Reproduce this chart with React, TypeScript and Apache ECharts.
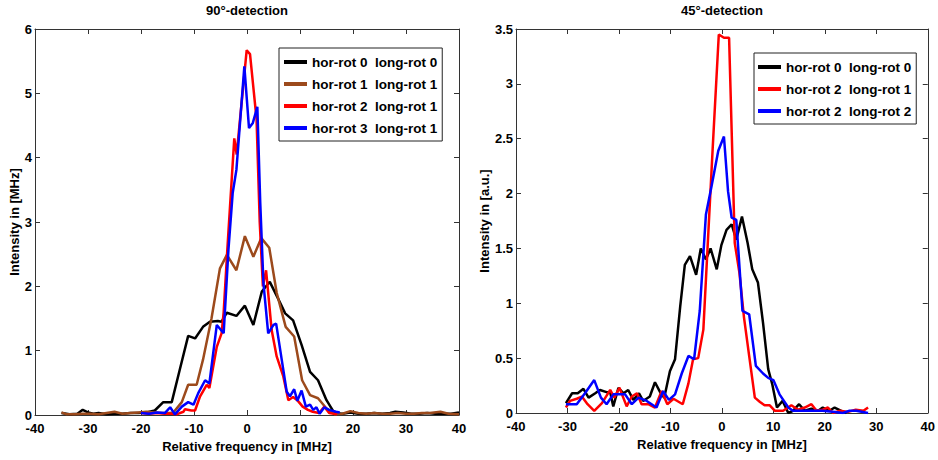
import React, { useEffect, useRef } from "react";
import * as echarts from "echarts";

const FONT = "'Liberation Sans', Arial, sans-serif";

const titles = ["90°-detection", "45°-detection"];
const yNames = ["Intensity in [MHz]", "Intensity in [a.u.]"];
const xName = "Relative frequency in [MHz]";

const names90 = ["hor-rot 0  long-rot 0", "hor-rot 1  long-rot 1", "hor-rot 2  long-rot 1", "hor-rot 3  long-rot 1"];
const names45 = ["hor-rot 0  long-rot 0", "hor-rot 2  long-rot 1", "hor-rot 2  long-rot 2"];
const colors90 = ["#000000", "#9c4a1c", "#ff0000", "#0000ff"];
const colors45 = ["#000000", "#ff0000", "#0000ff"];

// 90°-detection: [frequency MHz, intensity]
const d90_h0l0: [number, number][] = [
  [-35, 0.03], [-33.5, 0.01], [-32, 0.02], [-31, 0.08], [-30, 0.04], [-29, 0.02], [-28, 0.03], [-26.5, 0.01],
  [-25, 0.02], [-23.5, 0.02], [-22, 0.03], [-20.5, 0.03], [-19, 0.04], [-17.4, 0.07], [-15.8, 0.2], [-14.2, 0.2],
  [-12.7, 0.7], [-11.1, 1.23], [-9.8, 1.19], [-8.3, 1.37], [-7, 1.45], [-5.5, 1.46], [-4.8, 1.45], [-3.8, 1.59],
  [-2, 1.54], [-0.4, 1.7], [1.2, 1.4], [2.8, 1.92], [4.3, 2.07], [5.8, 1.82], [7.2, 1.58], [8.7, 1.47],
  [10.3, 1.09], [11.9, 0.67], [13.4, 0.54], [15, 0.23], [16.5, 0.03], [18, 0.02], [19.5, 0.04], [21, 0.02],
  [22.5, 0.02], [24, 0.03], [25.5, 0.02], [27, 0.03], [28, 0.05], [29.5, 0.04], [31, 0.02], [32.5, 0.02],
  [34, 0.03], [35.5, 0.02], [37, 0.02], [38.5, 0.02], [40, 0.04],
];
const d90_h1l1: [number, number][] = [
  [-35, 0.04], [-34, 0.01], [-32.5, 0.01], [-31, 0.02], [-29.5, 0.02], [-28, 0.01], [-26.5, 0.03], [-25, 0.05],
  [-23.5, 0.02], [-22, 0.03], [-20.5, 0.04], [-19, 0.05], [-17.5, 0.04], [-16, 0.03], [-14.5, 0.03], [-13.9, 0.04],
  [-12.3, 0.2], [-11.1, 0.47], [-9.5, 0.47], [-8.3, 0.86], [-6.7, 1.5], [-5.1, 2.28], [-3.8, 2.49], [-2, 2.25],
  [-0.4, 2.78], [1.2, 2.46], [2.7, 2.75], [4.2, 2.6], [5.6, 1.9], [7.3, 1.37], [8.9, 1.22], [10.4, 0.54],
  [11.9, 0.31], [13.4, 0.26], [15, 0.1], [16.6, 0.01], [18, 0.02], [19.5, 0.06], [21, 0.03], [22.5, 0.02],
  [24, 0.03], [25.5, 0.02], [27, 0.02], [28.5, 0.03], [30, 0.02], [31.5, 0.02], [33, 0.03], [34.5, 0.03],
  [36.5, 0.05], [38, 0.02], [40, 0.01],
];
const d90_h2l1: [number, number][] = [
  [-20, 0.03], [-18.5, 0.02], [-17, 0.03], [-15.5, 0.02], [-14.2, 0.02], [-13.3, 0.01], [-12, 0.05], [-11.7, 0.09],
  [-10.5, 0.07], [-9.8, 0.07], [-8.9, 0.28], [-7.6, 0.47], [-7.1, 0.42], [-5.7, 1.06], [-4.8, 1.27], [-4.4, 1.6],
  [-3.7, 2.59], [-2.4, 4.3], [-1.95, 4.05], [-0.06, 5.67], [0.57, 5.61], [1.8, 4.6], [2.4, 3.0], [3.0, 2.0],
  [3.6, 2.25], [4.65, 1.32], [5.6, 0.91], [6.85, 0.6], [7.8, 0.23], [8.7, 0.28], [9.6, 0.22], [10.5, 0.13],
  [11.5, 0.08], [12.4, 0.05], [13.6, 0.03], [14.6, 0.13], [15.5, 0.03], [17, 0.01],
];
const d90_h3l1: [number, number][] = [
  [-20, 0.03], [-18.5, 0.02], [-17, 0.04], [-15.5, 0.03], [-14.5, 0.12], [-13.6, 0.01], [-12.3, 0.13], [-11.1, 0.2],
  [-10.1, 0.16], [-9.2, 0.34], [-7.9, 0.54], [-7.1, 0.49], [-5.7, 1.4], [-4.4, 1.27], [-3.5, 2.57], [-2.7, 3.45],
  [-2, 3.81], [-0.5, 5.42], [0.38, 4.46], [1.1, 4.54], [1.95, 4.79], [2.5, 3.3], [3.1, 2.05], [4.0, 1.27],
  [5.0, 1.4], [5.5, 1.42], [6.55, 0.86], [7.5, 0.36], [8.1, 0.29], [8.9, 0.4], [9.5, 0.22], [10.3, 0.38],
  [11.1, 0.13], [11.9, 0.16], [12.5, 0.08], [13.1, 0.12], [13.7, 0.02], [14.6, 0.12], [15.5, 0.08], [16.8, 0.05],
  [17.5, 0.04],
];

// 45°-detection
const d45_h0l0: [number, number][] = [
  [-30.3, 0.09], [-29.1, 0.18], [-28, 0.18], [-26.9, 0.22], [-25.9, 0.14], [-24.6, 0.18], [-23.7, 0.21], [-22.4, 0.19],
  [-21.7, 0.19], [-21.1, 0.06], [-20.1, 0.23], [-19.1, 0.18], [-18.2, 0.21], [-17.2, 0.12], [-16.1, 0.18], [-15.3, 0.11],
  [-14, 0.15], [-13, 0.28], [-12, 0.19], [-11.2, 0.14], [-10.1, 0.38], [-9.1, 0.49], [-8.1, 0.97], [-7.2, 1.35],
  [-6.2, 1.43], [-5, 1.26], [-4.1, 1.5], [-3.1, 1.4], [-2.2, 1.5], [-1, 1.31], [-0.1, 1.53], [0.9, 1.67],
  [1.9, 1.72], [2.8, 1.58], [3.9, 1.79], [5, 1.55], [5.9, 1.31], [7, 1.19], [8, 0.82], [9, 0.4],
  [9.8, 0.26], [10.7, 0.05], [11.8, 0.11], [12.9, 0], [13.8, 0.02], [15, 0.08], [16.1, 0.02], [17.4, 0.04],
  [18.7, 0.02], [19.6, 0.05], [20.9, 0.02], [21.9, 0.05], [23.2, 0.02], [24.2, 0],
];
const d45_h2l1: [number, number][] = [
  [-30.3, 0.05], [-29.5, 0.11], [-28.2, 0.13], [-27.2, 0.15], [-26.1, 0.08], [-24.8, 0.02], [-23.3, 0.09], [-21.7, 0.21],
  [-20.9, 0.14], [-19.9, 0.23], [-18.5, 0.06], [-17.5, 0.15], [-16.5, 0.18], [-15.6, 0.08], [-14.3, 0.08], [-13, 0.05],
  [-11.7, 0.2], [-10.6, 0.08], [-9.4, 0.13], [-7.6, 0.08], [-6.5, 0.27], [-5.6, 0.49], [-4.6, 0.5], [-3.6, 0.76],
  [-2.8, 1.49], [-1.8, 2.4], [-0.6, 3.45], [0.4, 3.42], [1.4, 3.42], [2.5, 1.55], [3.4, 1.28], [4.3, 0.87],
  [5.3, 0.52], [6.4, 0.14], [7.4, 0.1], [8.3, 0.07], [9.3, 0.07], [10.3, 0.02], [11.9, 0.02], [13.5, 0.07],
  [14.8, 0.03], [16.1, 0.05], [17.4, 0.08], [18.4, 0.02], [19.6, 0.03], [20.6, 0.05], [21.6, 0], [23, 0.02],
  [24.5, 0.01], [26, 0.03], [27.5, 0.02], [28.4, 0.05],
];
const d45_h2l2: [number, number][] = [
  [-30.3, 0.08], [-28.2, 0.08], [-26.6, 0.18], [-24.8, 0.3], [-23.5, 0.14], [-22.4, 0.08], [-21.1, 0.17], [-18.8, 0.17],
  [-17.5, 0.08], [-16.2, 0.14], [-14.6, 0.11], [-12.7, 0.05], [-11.4, 0.2], [-10.3, 0.12], [-9.1, 0.17], [-7.8, 0.36],
  [-6.5, 0.52], [-5.4, 0.49], [-4.3, 0.93], [-3.1, 1.81], [-2, 2.07], [-0.7, 2.39], [0.4, 2.52], [1.2, 2.02],
  [1.9, 1.78], [2.8, 1.76], [4, 0.93], [5.3, 0.9], [6.6, 0.43], [8, 0.36], [9, 0.32], [10, 0.3],
  [11.2, 0.17], [12.9, 0.05], [13.8, 0.02], [15.8, 0.02], [19.6, 0.02], [22, 0.01], [23.5, 0], [24.8, 0.02],
  [26.1, 0.02], [28.4, 0],
];

const data90 = [d90_h0l0, d90_h1l1, d90_h2l1, d90_h3l1];
const data45 = [d45_h0l0, d45_h2l1, d45_h2l2];

const AX = "#333333";
const TICK_FS = 13;
const NAME_FS = 13;

function valueAxis(gridIndex: number, min: number, max: number, interval: number, position: string, labels: boolean, extra: any = {}) {
  return {
    type: "value",
    gridIndex,
    min,
    max,
    interval,
    position,
    axisLine: { show: true, onZero: false, lineStyle: { color: AX, width: 1 } },
    axisTick: { show: true, inside: true, length: 5, lineStyle: { color: AX, width: 1 } },
    splitLine: { show: false },
    axisLabel: {
      show: labels,
      color: "#000",
      fontFamily: FONT,
      fontWeight: "bold",
      fontSize: TICK_FS,
      margin: 3,
    },
    ...extra,
  };
}

export default function App() {
  const ref = useRef<HTMLDivElement>(null);
  useEffect(() => {
    const chart = echarts.init(ref.current!, null, { renderer: "svg" });
    const nameStyle = { color: "#000", fontFamily: FONT, fontWeight: "bold", fontSize: NAME_FS };
    const xExtra = {
      name: xName,
      nameLocation: "middle",
      nameGap: 25,
      nameTextStyle: nameStyle,
      axisLabel: { show: true, color: "#000", fontFamily: FONT, fontWeight: "bold", fontSize: TICK_FS, margin: 7 },
    };
    const series: any[] = [];
    names90.forEach((n, i) =>
      series.push({
        type: "line",
        name: n,
        xAxisIndex: 0,
        yAxisIndex: 0,
        data: data90[i],
        showSymbol: false,
        symbol: "none",
        color: colors90[i],
        lineStyle: { width: 2.5, color: colors90[i] },
      })
    );
    names45.forEach((n, i) =>
      series.push({
        type: "line",
        name: n,
        xAxisIndex: 2,
        yAxisIndex: 2,
        data: data45[i],
        showSymbol: false,
        symbol: "none",
        color: colors45[i],
        lineStyle: { width: 2.5, color: colors45[i] },
      })
    );
    const legendCommon = {
      orient: "vertical",
      icon: "rect",
      itemWidth: 23,
      itemHeight: 4,
      itemGap: 4,
      itemStyle: { borderWidth: 0 },
      backgroundColor: "#fff",
      borderColor: "#222",
      borderWidth: 1,
      borderRadius: 0,
      selectedMode: false,
      textStyle: { color: "#000", fontFamily: FONT, fontWeight: "bold", fontSize: 13.5, lineHeight: 18 },
    };
    chart.setOption({
      animation: false,
      backgroundColor: "#fff",
      title: [
        { text: titles[0], left: 247, top: 4, padding: 0, textAlign: "center", textStyle: { ...nameStyle } },
        { text: titles[1], left: 722, top: 4, padding: 0, textAlign: "center", textStyle: { ...nameStyle } },
      ],
      legend: [
        { ...legendCommon, data: names90, left: 279, top: 48, padding: [5, 5, 4, 5] },
        { ...legendCommon, data: names45, left: 754, top: 53, padding: [5, 5, 4, 4] },
      ],
      grid: [
        { left: 35, top: 29, width: 424, height: 386, show: false },
        { left: 516, top: 29, width: 412, height: 384, show: false },
      ],
      xAxis: [
        valueAxis(0, -40, 40, 10, "bottom", true, xExtra),
        valueAxis(0, -40, 40, 10, "top", false),
        valueAxis(1, -40, 40, 10, "bottom", true, xExtra),
        valueAxis(1, -40, 40, 10, "top", false),
      ],
      yAxis: [
        valueAxis(0, 0, 6, 1, "left", true, { name: yNames[0], nameLocation: "middle", nameGap: 14, nameTextStyle: nameStyle }),
        valueAxis(0, 0, 6, 1, "right", false),
        valueAxis(1, 0, 3.5, 0.5, "left", true, { name: yNames[1], nameLocation: "middle", nameGap: 23, nameTextStyle: nameStyle }),
        valueAxis(1, 0, 3.5, 0.5, "right", false),
      ],
      series,
    });
    return () => chart.dispose();
  }, []);
  return <div ref={ref} style={{ position: "fixed", left: 0, top: 0, width: 938, height: 460 }} />;
}
